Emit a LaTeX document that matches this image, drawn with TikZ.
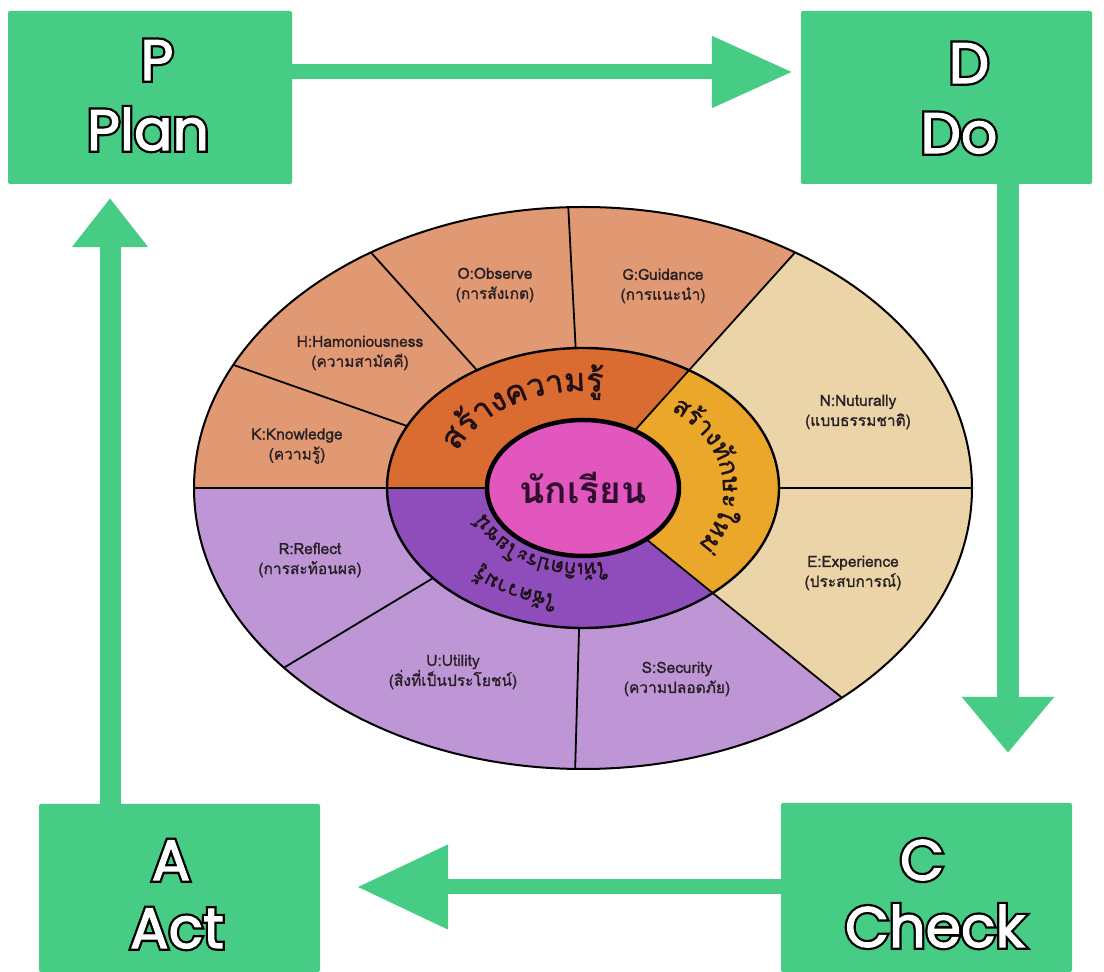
\documentclass[tikz,border=0pt]{standalone}
\usepackage{fontspec}
\usetikzlibrary{arrows.meta,shapes.geometric,decorations.text}
\newfontfamily\thaifont[Script=Thai]{Loma}
\newfontface\thaiseg{Loma}[Script=Thai, FakeBold=1.2]
\newfontface\thairing{Loma}[Script=Thai, FakeBold=1.5]
\newfontface\boxfill{Poppins}[FakeBold=2]
\newfontface\boxstroke{Poppins}[FakeBold=10]
\definecolor{pdcagreen}{RGB}{70,204,133}
\definecolor{salmonseg}{RGB}{225,153,115}
\definecolor{beigeseg}{RGB}{235,212,168}
\definecolor{lilacseg}{RGB}{190,150,214}
\definecolor{orangering}{RGB}{218,107,49}
\definecolor{yellowring}{RGB}{235,167,42}
\definecolor{purplering}{RGB}{143,77,187}
\definecolor{pinkcore}{RGB}{226,87,190}
\definecolor{segtextcol}{RGB}{40,32,36}
\definecolor{ringtxt}{RGB}{30,16,20}
\definecolor{coretxt}{RGB}{48,14,48}
\newcommand\outl[1]{{\rlap{\boxstroke\color{black}#1}\boxfill\color{white}#1}}
\newcommand\wedgefill[6]{\begin{scope}\clip (0,0) -- (#2:900pt) -- (#3:900pt) -- (#4:900pt) -- cycle;
 \fill[#1] (0,0) ellipse [x radius=#5, y radius=#6];\end{scope}}
\newcommand\ringA{\thairing\fontsize{32}{32}\selectfont}
\newcommand\ringB{\thairing\fontsize{25}{25}\selectfont}
\newcommand\ringC{\thairing\fontsize{20}{20}\selectfont}
\begin{document}
\begin{tikzpicture}[x=1pt,y=1pt,
  pdcabox/.style={fill=pdcagreen, rounded corners=2pt, inner sep=0},
  boxlabel/.style={font=\boxfill\fontsize{57}{57}\selectfont, anchor=base, inner sep=0},
  flowarrow/.style={color=pdcagreen},
  segline/.style={draw=black, line width=1.8pt},
  segtext/.style={font=\thaiseg\fontsize{15.5}{20}\selectfont, align=center, text=segtextcol, inner sep=0}]
\useasboundingbox (0,0) rectangle (1104,972);
\fill[white] (0,0) rectangle (1104,972);

% ---------- wheel ----------
\begin{scope}[shift={(583,484)}]
 \wedgefill{salmonseg}{48}{114}{180}{389pt}{281pt}
 \wedgefill{lilacseg}{180}{250.5}{321}{389pt}{281pt}
 \wedgefill{beigeseg}{321}{364.5}{408}{389pt}{281pt}
 \begin{scope}
  \clip (0,0) ellipse [x radius=389pt, y radius=281pt];
  \foreach \a in {0,48,93,132,160.6,180,211,268.4,321} \draw[segline] (0,0) -- (\a:900pt);
 \end{scope}
 \wedgefill{orangering}{48}{114}{180}{196pt}{140pt}
 \wedgefill{purplering}{180}{250.5}{321}{196pt}{140pt}
 \wedgefill{yellowring}{321}{364.5}{408}{196pt}{140pt}
 \begin{scope}
  \clip (0,0) ellipse [x radius=196pt, y radius=140pt];
  \foreach \a in {48,180,321} \draw[segline] (0,0) -- (\a:900pt);
 \end{scope}
 \draw[line width=2pt] (0,0) ellipse [x radius=389pt, y radius=281pt];
 \draw[line width=2.4pt] (0,0) ellipse [x radius=196pt, y radius=140pt];
 % curved ring texts
 \path[decorate, decoration={text along path, text color=ringtxt,
   text={|\ringA|ส{ร้}างความ{รู้}}}]
   (158:136pt and 97pt) arc[start angle=158, end angle=10, x radius=136pt, y radius=97pt];
 \path[decorate, decoration={text along path, text color=ringtxt,
   text={|\ringB|ส{ร้}าง{ทั}กษะให{ม่}}}]
   (51:140pt and 100pt) arc[start angle=51, end angle=-75, x radius=140pt, y radius=100pt];
 \path[decorate, decoration={text along path, text color=ringtxt,
   text={|\ringC|ใ{ช้}ความ{รู้}}}]
   (-100:151pt and 108pt) arc[start angle=-100, end angle=-175, x radius=151pt, y radius=108pt];
 \path[decorate, decoration={text along path, text color=ringtxt,
   text={|\ringC|ใ{ห้}เ{กิ}ดประโยช{น์}}}]
   (-77:104pt and 75pt) arc[start angle=-77, end angle=-178, x radius=104pt, y radius=75pt];
 \node[ellipse, draw=black, line width=4.5pt, fill=pinkcore, minimum width=192pt, minimum height=136pt,
   inner sep=0, text=coretxt, font=\thaifont\bfseries\fontsize{37}{40}\selectfont] (student) at (0,0) {นักเรียน};
\end{scope}

% ---------- segment labels ----------
\node[segtext] (obs) at (495,687) {O:Observe\\(การสังเกต)};
\node[segtext] (ham) at (360,619) {H:Hamoniousness\\(ความสามัคคี)};
\node[segtext] (kno) at (297,526) {K:Knowledge\\(ความรู้)};
\node[segtext] (gui) at (663,686) {G:Guidance\\(การแนะนำ)};
\node[segtext] (nat) at (858,560) {N:Nuturally\\(แบบธรรมชาติ)};
\node[segtext] (exp) at (853,399) {E:Experience\\(ประสบการณ์)};
\node[segtext] (sec) at (677,293) {S:Security\\(ความปลอดภัย)};
\node[segtext] (uti) at (453,300) {U:Utility\\(สิ่งที่เป็นประโยชน์)};
\node[segtext] (ref) at (310,412) {R:Reflect\\(การสะท้อนผล)};

% ---------- PDCA boxes ----------
\node[pdcabox, minimum width=284pt, minimum height=173pt] (P) at (150,874.5) {};
\node[pdcabox, minimum width=291pt, minimum height=173pt] (D) at (946.5,874.5) {};
\node[pdcabox, minimum width=291pt, minimum height=169pt] (C) at (926.5,84.5) {};
\node[pdcabox, minimum width=281pt, minimum height=168pt] (A) at (179.5,84) {};

\node[boxlabel] (P1) at (157,892) {\outl{P}};
\node[boxlabel] (P2) at (148,822) {\outl{Plan}};
\node[boxlabel] (D1) at (969,889) {\outl{D}};
\node[boxlabel] (D2) at (959,819) {\outl{Do}};
\node[boxlabel] (C1) at (922,92) {\outl{C}};
\node[boxlabel] (C2) at (935,25) {\outl{Check}};
\node[boxlabel] (A1) at (171,92) {\outl{A}};
\node[boxlabel] (A2) at (177,24) {\outl{Act}};

% ---------- arrows ----------
\coordinate (pdy) at (0,900);
\coordinate (dcx) at (1008,0);
\coordinate (cay) at (0,85);
\coordinate (apx) at (110,0);
\draw[flowarrow, line width=15pt, -{Triangle[length=81pt,width=68pt]}, shorten >=8pt]
  (P.east |- pdy) -- (D.west |- pdy);
\draw[flowarrow, line width=22pt, -{Triangle[length=56pt,width=89pt]}, shorten >=50pt]
  (D.south -| dcx) -- (C.north -| dcx);
\draw[flowarrow, line width=15pt, -{Triangle[length=91pt,width=81pt]}, shorten >=37pt]
  (C.west |- cay) -- (A.east |- cay);
\draw[flowarrow, line width=21pt, -{Triangle[length=49pt,width=73pt]}, shorten >=14pt]
  (A.north -| apx) -- (P.south -| apx);
\end{tikzpicture}
\end{document}
